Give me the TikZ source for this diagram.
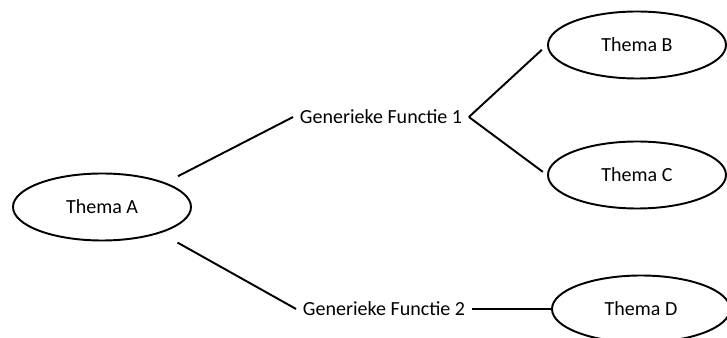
\documentclass[tikz,border=0pt]{standalone}
\usepackage{fontspec}
\setmainfont{Carlito}
\usetikzlibrary{shapes.geometric}

\begin{document}
\begin{tikzpicture}[
    font=\fontsize{11.4}{13.7}\selectfont,
    thema/.style={draw, ellipse, line width=1.1pt, inner sep=0pt,
      minimum width=3.56cm, minimum height=1.34cm},
    functie/.style={inner sep=0.13cm},
    link/.style={line width=1.1pt}
  ]
  \useasboundingbox (0,0) rectangle (14.54,-6.76);

  % Themes
  \node[thema] (A) at (2.04,-4.14) {Thema A};
  \node[thema] (B) at (12.74,-0.9) {Thema B};
  \node[thema] (C) at (12.74,-3.5) {Thema C};
  \node[thema] (D) at (12.82,-6.18) {Thema D};

  % Generic functions
  \node[functie] (F1) at (7.62,-2.34) {Generieke Functie 1};
  \node[functie] (F2) at (7.68,-6.18) {Generieke Functie 2};

  % Connectors
  \draw[link, shorten <=8pt] (A.21) -- (F1.west);
  \draw[link, shorten <=11pt] (A.-24) -- (F2.west);
  \draw[link, shorten >=4pt] (F1.east) -- (B.west);
  \draw[link, shorten >=3pt] (F1.east) -- (C.west);
  \draw[link] (F2.east) -- (D.west);
\end{tikzpicture}
\end{document}
